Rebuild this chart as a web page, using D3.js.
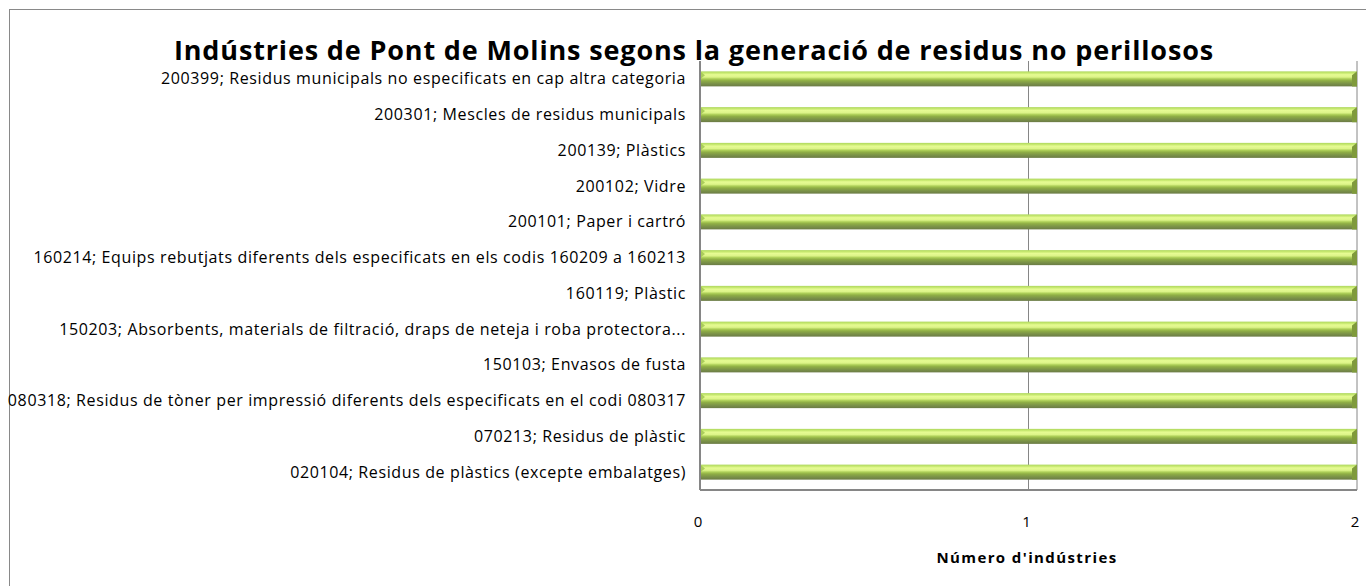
<!DOCTYPE html>
<html>
<head>
<meta charset="utf-8">
<script src="https://cdn.jsdelivr.net/npm/d3@7"></script>
<style>
  html, body { margin: 0; padding: 0; background: #fff; }
  svg { display: block; }
  text { font-family: "Open Sans", "Liberation Sans", Arial, sans-serif; fill: #000; }
</style>
</head>
<body>
<svg id="chart" width="1366" height="586"></svg>
<script>
// Waste codes (top to bottom as listed on the chart)
const categories = [
  "200399; Residus municipals no especificats en cap altra categoria",
  "200301; Mescles de residus municipals",
  "200139; Plàstics",
  "200102; Vidre",
  "200101; Paper i cartró",
  "160214; Equips rebutjats diferents dels especificats en els codis 160209 a 160213",
  "160119; Plàstic",
  "150203; Absorbents, materials de filtració, draps de neteja i roba protectora...",
  "150103; Envasos de fusta",
  "080318; Residus de tòner per impressió diferents dels especificats en el codi 080317",
  "070213; Residus de plàstic",
  "020104; Residus de plàstics (excepte embalatges)"
];
// Number of industries per waste code
const values = [2, 2, 2, 2, 2, 2, 2, 2, 2, 2, 2, 2];
const xTicks = [0, 1, 2];
const titleText = "Indústries de Pont de Molins segons la generació de residus no perillosos";
const xAxisTitle = "Número d'indústries";

const svg = d3.select("#chart");
const margin = { left: 700, right: 9, top: 61, bottom: 96 };
const W = 1366, H = 586;
const plotW = W - margin.left - margin.right;
const plotH = H - margin.top - margin.bottom;

// chart frame
svg.append("rect")
  .attr("x", 9.5).attr("y", 9.5)
  .attr("width", W + 20).attr("height", H + 20)
  .attr("fill", "#fff").attr("stroke", "#898989").attr("stroke-width", 1);

// title
svg.append("text")
  .attr("x", 694).attr("y", 60)
  .attr("text-anchor", "middle")
  .style("font-size", "27px").style("font-weight", "bold")
  .style("letter-spacing", "0.85px")
  .text(titleText);

const x = d3.scaleLinear().domain([0, 2]).range([0, plotW]);
const y = d3.scaleBand().domain(categories).range([0, plotH]).paddingInner(0.58).paddingOuter(0.29);

const g = svg.append("g").attr("transform", `translate(${margin.left},${margin.top})`);

// gradient for the cylinder-like bars
const defs = svg.append("defs");
const grad = defs.append("linearGradient").attr("id", "barGrad")
  .attr("x1", 0).attr("y1", 0).attr("x2", 0).attr("y2", 1);
[
  [0, "#aed75e"], [0.12, "#c9ea72"], [0.22, "#e6fb93"], [0.38, "#dcf488"],
  [0.5, "#acce57"], [0.62, "#8fae45"], [0.8, "#7c9448"], [1, "#6b7b46"]
].forEach(([o, c]) => grad.append("stop").attr("offset", o).attr("stop-color", c));

// vertical gridlines
g.selectAll("line.grid").data(xTicks.slice(1)).join("line")
  .attr("class", "grid")
  .attr("x1", d => x(d)).attr("x2", d => x(d))
  .attr("y1", 0).attr("y2", plotH)
  .attr("stroke", "#868686").attr("stroke-width", 1);

// bars
const bars = g.selectAll("g.bar").data(categories).join("g").attr("class", "bar");
bars.append("rect")
  .attr("x", 0)
  .attr("y", d => y(d))
  .attr("width", (d, i) => x(values[i]))
  .attr("height", y.bandwidth())
  .attr("fill", "url(#barGrad)");
// left bevel
bars.append("path")
  .attr("d", d => {
    const y0 = y(d);
    return `M0,${y0} L5,${y0 + 4} L0,${y0 + 8} Z`;
  })
  .attr("fill", "#9cc24e").attr("opacity", 0.8);
// right end cap
bars.append("path")
  .attr("d", (d, i) => {
    const xe = x(values[i]), y0 = y(d), h = y.bandwidth();
    return `M${xe - 5},${y0 + 4} L${xe},${y0} L${xe},${y0 + h} L${xe - 5},${y0 + h} Z`;
  })
  .attr("fill", "#7f9a3c");

// axes lines
g.append("line").attr("x1", 0).attr("x2", 0).attr("y1", 0).attr("y2", plotH)
  .attr("stroke", "#868686").attr("stroke-width", 2);
g.append("line").attr("x1", 0).attr("x2", plotW).attr("y1", plotH).attr("y2", plotH)
  .attr("stroke", "#868686").attr("stroke-width", 2);

// category labels
g.selectAll("text.cat").data(categories).join("text")
  .attr("class", "cat")
  .attr("x", -14)
  .attr("y", d => y(d) + y.bandwidth() / 2)
  .attr("dy", "0.35em")
  .attr("text-anchor", "end")
  .style("font-size", "16px")
  .style("letter-spacing", "0.62px")
  .text(d => d);

// x tick labels
g.selectAll("text.tick").data(xTicks).join("text")
  .attr("class", "tick")
  .attr("x", d => x(d) - 2)
  .attr("y", plotH + 32)
  .attr("dy", "0.35em")
  .attr("text-anchor", "middle")
  .style("font-size", "15px")
  .text(d => d);

// x axis title
svg.append("text")
  .attr("x", 1027).attr("y", 558)
  .attr("dy", "0.35em")
  .attr("text-anchor", "middle")
  .style("font-size", "15px").style("font-weight", "bold")
  .style("letter-spacing", "1.4px")
  .text(xAxisTitle);
</script>
</body>
</html>
